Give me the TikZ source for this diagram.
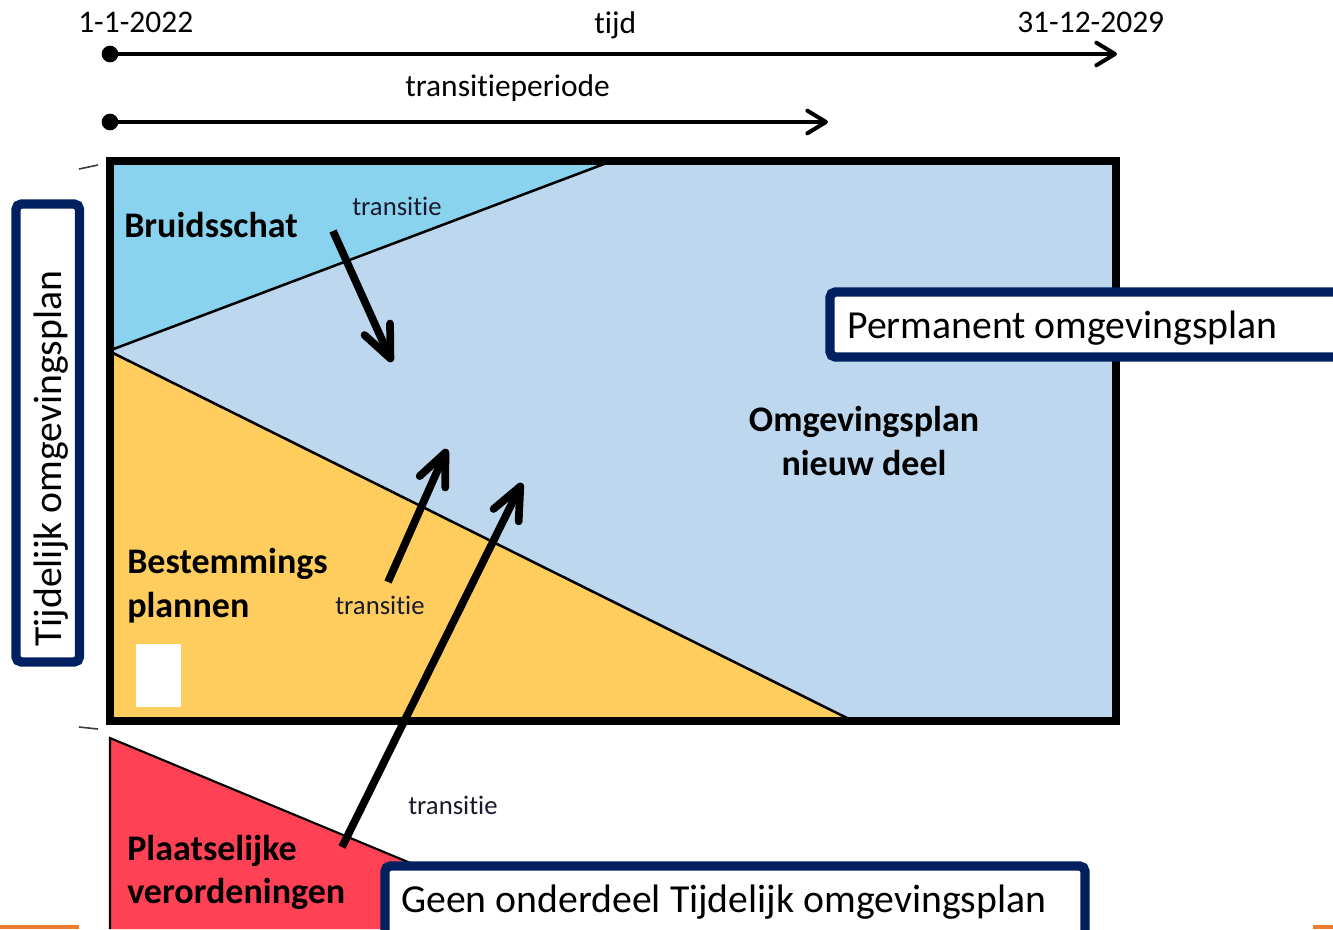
\documentclass[tikz,border=0pt]{standalone}
\usepackage{fontspec}
\setmainfont{Carlito}[Ligatures=NoCommon]
\usetikzlibrary{arrows.meta}
\definecolor{cyanR}{RGB}{137,211,238}
\definecolor{lblue}{RGB}{189,215,238}
\definecolor{yel}{RGB}{254,205,93}
\definecolor{redR}{RGB}{255,65,86}
\definecolor{navy}{RGB}{0,32,96}
\definecolor{orangeR}{RGB}{237,125,49}
\tikzset{
  toplbl/.style={inner sep=0pt, anchor=base west, font=\fontsize{23.6}{28}\selectfont},
  boldlbl/.style={inner sep=0pt, anchor=base west, font=\fontsize{27}{33}\selectfont\bfseries},
  translbl/.style={inner sep=0pt, anchor=base west, font=\fontsize{20}{24}\selectfont, text={rgb,255:red,25;green,25;blue,45}},
  boxlbl/.style={inner sep=0pt, anchor=base west, font=\fontsize{29.8}{35}\selectfont},
  navybox/.style={draw=navy, fill=white, line width=7pt, rounded corners=4pt},
  divline/.style={draw=black, line width=1.9pt},
  dot/.style={circle, fill=black, inner sep=0pt, minimum size=12.5pt},
  timearrow/.style={line width=3pt, -{Straight Barb[round, length=14pt, width=17pt]}},
  transarrow/.style={line width=5.8pt, -{Straight Barb[round, length=24pt, width=21pt]}},
  tickline/.style={draw={rgb,255:red,60;green,60;blue,60}, line width=1.2pt},
}
\begin{document}
\begin{tikzpicture}[x=0.75pt, y=-0.75pt]
\path[use as bounding box] (0,0) rectangle (1333,929);
\clip (0,0) rectangle (1333,929);

% time axis
\node[dot] (d1) at (110,54) {};
\coordinate (e1) at (1117,54);
\draw[timearrow] (d1.center) -- (e1);
\node[dot] (d2) at (110,122) {};
\coordinate (e2) at (828,122);
\draw[timearrow] (d2.center) -- (e2);
\node[toplbl] (start) at (78,32) {1-1-2022};
\node[toplbl] (tijd) at (594,33) {tijd};
\node[toplbl] (end) at (1017,32) {31-12-2029};
\node[toplbl] (tper) at (405,96) {transitieperiode};

% regions
\fill[lblue] (110,161) rectangle (1116,721);
\fill[cyanR] (110,161) -- (612,161) -- (111,350) -- cycle;
\fill[yel] (111,352) -- (853,721) -- (110,721) -- cycle;
\draw[divline] (111,350) -- (612,161);
\draw[divline] (111,352) -- (853,721);
\fill[white] (136,644) rectangle (181,707);
\draw[line width=6pt] (110,161) rectangle (1116,721);

% red region
\fill[redR] (110,738) -- (569,929) -- (110,929) -- cycle;
\draw[line width=1.6pt] (110,929) -- (110,738) -- (569,929);

% ticks
\draw[tickline] (79,169) -- (98,165);
\draw[tickline] (79,727) -- (98,729);

% orange bars
\fill[orangeR] (0,925) rectangle (79,929);
\fill[orangeR] (1313,925) rectangle (1333,929);

% labels in regions
\node[boldlbl] (bruid) at (124,237) {Bruidsschat};
\node[boldlbl] (best1) at (127,573) {Bestemmings};
\node[boldlbl] (best2) at (127,617) {plannen};
\node[boldlbl] (plaat1) at (127,860) {Plaatselijke};
\node[boldlbl] (plaat2) at (127,903) {verordeningen};
\node[boldlbl, anchor=base] (omg1) at (864,431) {Omgevingsplan};
\node[boldlbl, anchor=base] (omg2) at (864,475) {nieuw deel};
\node[translbl] (tr1) at (352,215) {transitie};
\node[translbl] (tr2) at (335,614) {transitie};
\node[translbl] (tr3) at (408,814) {transitie};

% transition arrows
\coordinate (a1s) at (333,231); \coordinate (a1e) at (392,362);
\coordinate (a2s) at (388,582); \coordinate (a2e) at (447,449);
\coordinate (a3s) at (342,847); \coordinate (a3e) at (522,483);
\draw[transarrow] (a1s) -- (a1e);
\draw[transarrow] (a2s) -- (a2e);
\draw[transarrow] (a3s) -- (a3e);

% boxes
\draw[navybox] (16,204) rectangle (79.5,662);
\node[boxlbl, rotate=90] (tijdelijk) at (61,647) {Tijdelijk omgevingsplan};
\draw[navybox] (830,292) rectangle (1350,357);
\node[boxlbl] (perm) at (847,338) {Permanent omgevingsplan};
\draw[navybox] (385,866) rectangle (1085,950);
\node[boxlbl] (geen) at (401,912) {Geen onderdeel Tijdelijk omgevingsplan};
\end{tikzpicture}
\end{document}
